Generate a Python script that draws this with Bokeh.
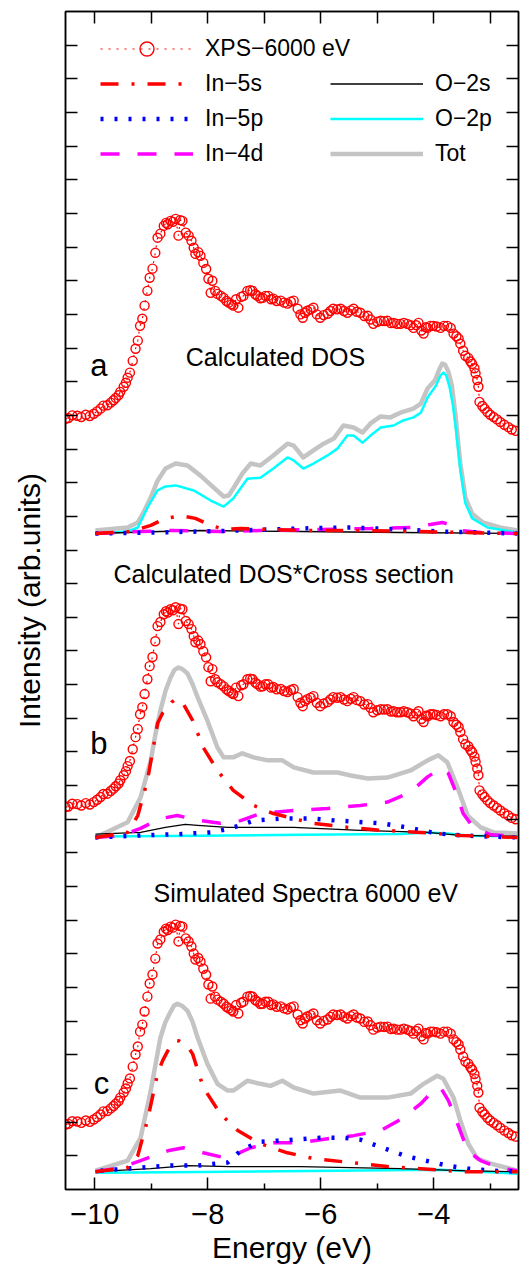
from bokeh.plotting import figure
from bokeh.models import FixedTicker, LinearAxis, Range1d, Label, Legend, LegendItem
from bokeh.embed import file_html
from bokeh.resources import INLINE

FONT = "Liberation Sans"

# ---------------- data ----------------
# measured XPS spectrum (6000 eV), same spectrum shown in the three panels
xps_e = [-10.52, -10.47, -10.40, -10.31, -10.24, -10.16, -10.09, -10.02, -9.96, -9.90,
         -9.85, -9.78, -9.72, -9.67, -9.63, -9.58, -9.55, -9.49, -9.45, -9.42,
         -9.38, -9.33, -9.28, -9.24, -9.20, -9.16, -9.12, -9.07, -9.03, -8.98,
         -8.93, -8.89, -8.84, -8.78, -8.74, -8.71, -8.66, -8.62, -8.57, -8.52,
         -8.49, -8.45, -8.39, -8.34, -8.29, -8.25, -8.22, -8.17, -8.13, -8.08,
         -8.03, -7.99, -7.95, -7.92, -7.87, -7.83, -7.77, -7.72, -7.67, -7.63,
         -7.58, -7.55, -7.50, -7.46, -7.41, -7.37, -7.30, -7.25, -7.21, -7.16,
         -7.12, -7.07, -7.03, -6.98, -6.93, -6.88, -6.84, -6.78, -6.71, -6.65,
         -6.59, -6.53, -6.48, -6.41, -6.36, -6.32, -6.28, -6.24, -6.18, -6.13,
         -6.07, -6.01, -5.95, -5.88, -5.83, -5.78, -5.71, -5.65, -5.59, -5.53,
         -5.47, -5.42, -5.36, -5.30, -5.23, -5.17, -5.12, -5.07, -5.00, -4.94,
         -4.88, -4.82, -4.76, -4.71, -4.65, -4.59, -4.53, -4.47, -4.41, -4.36,
         -4.31, -4.27, -4.22, -4.18, -4.14, -4.11, -4.06, -4.01, -3.95, -3.88,
         -3.82, -3.76, -3.70, -3.65, -3.60, -3.56, -3.53, -3.48, -3.44, -3.39,
         -3.35, -3.32, -3.28, -3.26, -3.23, -3.21, -3.19, -3.14, -3.10, -3.05,
         -3.00, -2.94, -2.88, -2.82, -2.75, -2.68, -2.62, -2.55]
xps_i = [0.00, 0.02, 0.10, 0.09, 0.05, 0.12, 0.08, 0.15, 0.22, 0.30,
         0.39, 0.40, 0.48, 0.55, 0.62, 0.70, 0.80, 0.95, 1.07, 1.22,
         1.37, 1.72, 2.08, 2.32, 2.76, 2.97, 3.36, 3.80, 4.19, 4.46,
         4.93, 5.38, 5.50, 5.73, 5.82, 5.78, 5.88, 5.85, 5.94, 5.44,
         5.90, 5.88, 5.53, 5.44, 5.29, 5.08, 4.90, 4.95, 4.84, 4.63,
         4.45, 4.16, 3.74, 4.10, 3.80, 3.71, 3.65, 3.59, 3.50, 3.45,
         3.40, 3.36, 3.55, 3.30, 3.62, 3.65, 3.80, 3.82, 3.80, 3.70,
         3.65, 3.58, 3.59, 3.65, 3.65, 3.55, 3.57, 3.50, 3.51, 3.45,
         3.42, 3.48, 3.51, 3.27, 3.10, 3.00, 3.15, 3.21, 3.25, 3.30,
         3.10, 3.00, 3.08, 3.12, 3.20, 3.27, 3.25, 3.27, 3.20, 3.15,
         3.22, 3.27, 3.18, 3.15, 3.05, 3.06, 2.95, 2.82, 2.88, 2.91,
         2.90, 2.91, 2.84, 2.85, 2.82, 2.82, 2.85, 2.82, 2.78, 2.70,
         2.78, 2.85, 2.62, 2.53, 2.72, 2.70, 2.76, 2.76, 2.74, 2.70,
         2.76, 2.76, 2.70, 2.53, 2.45, 2.38, 2.23, 2.02, 1.87, 1.81,
         1.70, 1.63, 1.50, 1.35, 1.15, 0.95, 0.50, 0.38, 0.30, 0.20,
         0.12, 0.05, -0.02, -0.10, -0.18, -0.25, -0.32, -0.36]

# vertical offsets of each panel (arb. units)
xps_offset = {"a": 22.90, "b": 11.36, "c": 1.93}
calc_base = {"a": 19.49, "b": 10.46, "c": 0.53}

# ---- panel a : Calculated DOS ----
a_tot_e = [-9.99, -9.42, -9.24, -9.14, -9.01, -8.89, -8.75, -8.57, -8.36, -8.13, -7.90, -7.72, -7.63, -7.55,
           -7.39, -7.24, -7.07, -6.84, -6.59, -6.48, -6.31, -6.13, -5.95, -5.77, -5.60, -5.42, -5.26,
           -5.12, -4.94, -4.77, -4.59, -4.36, -4.23, -4.11, -3.98, -3.90, -3.85, -3.80, -3.74, -3.68,
           -3.62, -3.53, -3.44, -3.32, -3.13, -2.83, -2.52]
a_tot_i = [0.09, 0.18, 0.33, 0.62, 1.07, 1.57, 1.93, 2.08, 2.02, 1.72, 1.37, 1.10, 1.13, 1.34,
           1.78, 2.08, 2.02, 2.32, 2.67, 2.61, 2.26, 2.47, 2.67, 2.82, 3.21, 3.15, 3.00,
           3.27, 3.48, 3.45, 3.59, 3.71, 3.86, 4.31, 4.55, 4.88, 5.05, 5.02, 4.80, 4.40,
           3.57, 2.08, 1.07, 0.59, 0.33, 0.18, 0.09]
a_2p_e = [-9.99, -9.42, -9.24, -9.07, -8.89, -8.75, -8.57, -8.25, -7.95, -7.72, -7.55, -7.30, -7.07,
          -6.84, -6.59, -6.48, -6.31, -6.13, -5.88, -5.70, -5.53, -5.42, -5.26, -5.12, -4.94, -4.71,
          -4.54, -4.36, -4.23, -4.11, -3.96, -3.88, -3.83, -3.78, -3.72, -3.66, -3.60, -3.53, -3.44,
          -3.32, -3.05, -2.52]
a_2p_i = [0.00, 0.06, 0.18, 0.77, 1.28, 1.40, 1.43, 1.28, 0.98, 0.80, 1.04, 1.63, 1.66,
          1.93, 2.26, 2.17, 1.93, 2.08, 2.32, 2.53, 2.91, 2.91, 2.70, 2.91, 3.15, 3.21,
          3.36, 3.45, 3.59, 4.04, 4.40, 4.70, 4.78, 4.70, 4.35, 3.80, 3.00, 1.90, 0.90,
          0.45, 0.18, 0.03]
a_5s_e = [-9.99, -9.37, -9.01, -8.75, -8.48, -8.22, -7.95, -7.69, -7.42, -6.36, -5.30, -4.23, -3.53, -2.52]
a_5s_i = [0.00, 0.06, 0.24, 0.45, 0.53, 0.45, 0.24, 0.12, 0.15, 0.09, 0.09, 0.06, 0.03, 0.00]
a_4d_e = [-9.99, -9.19, -8.66, -7.78, -7.07, -6.01, -5.12, -4.41, -4.06, -3.85, -3.67, -3.53, -3.17, -2.52]
a_4d_i = [0.00, 0.06, 0.09, 0.06, 0.09, 0.12, 0.15, 0.18, 0.27, 0.33, 0.24, 0.09, 0.03, 0.00]
a_5p_e = [-9.99, -9.01, -8.13, -7.42, -6.36, -5.47, -4.59, -3.88, -2.52]
a_5p_i = [0.00, 0.03, 0.06, 0.09, 0.15, 0.18, 0.12, 0.06, 0.00]
a_2s_e = [-9.99, -8.84, -8.13, -6.36, -4.59, -2.52]
a_2s_i = [0.00, 0.06, 0.09, 0.06, 0.03, 0.00]

# ---- panel b : Calculated DOS * cross section ----
b_tot_e = [-9.99, -9.42, -9.19, -9.01, -8.93, -8.84, -8.75, -8.66, -8.59, -8.52, -8.45, -8.36, -8.27,
           -8.18, -8.01, -7.83, -7.72, -7.55, -7.39, -7.19, -6.94, -6.68, -6.48, -6.13, -5.70, -5.47,
           -5.17, -4.82, -4.41, -4.11, -3.92, -3.76, -3.58, -3.40, -3.17, -2.94, -2.52]
b_tot_i = [0.00, 0.45, 1.19, 2.29, 3.05, 3.77, 4.35, 4.75, 4.98, 5.05, 5.00, 4.87, 4.55,
           4.16, 3.48, 2.67, 2.38, 2.38, 2.50, 2.38, 2.29, 2.29, 2.08, 1.93, 1.93, 1.84,
           1.75, 1.78, 1.99, 2.29, 2.44, 2.23, 1.49, 0.65, 0.30, 0.15, 0.12]
b_5s_e = [-9.99, -9.42, -9.24, -9.07, -8.89, -8.80, -8.71, -8.64, -8.57, -8.50, -8.45, -8.27, -8.08,
          -7.83, -7.55, -7.19, -6.84, -6.48, -6.13, -5.53, -5.00, -4.23, -3.53, -2.52]
b_5s_i = [0.00, 0.15, 0.65, 1.69, 3.39, 3.70, 3.86, 4.02, 4.10, 4.08, 4.01, 3.48, 2.67,
          1.99, 1.40, 0.95, 0.71, 0.56, 0.42, 0.30, 0.22, 0.15, 0.06, 0.00]
b_4d_e = [-9.99, -9.54, -9.19, -8.84, -8.54, -8.13, -7.78, -7.42, -7.07, -6.48, -5.88, -5.30, -4.82,
          -4.41, -4.11, -3.88, -3.74, -3.62, -3.48, -3.30, -2.99, -2.52]
b_4d_i = [0.00, 0.06, 0.27, 0.56, 0.65, 0.50, 0.42, 0.50, 0.71, 0.80, 0.86, 0.95, 1.05,
          1.35, 1.80, 2.05, 1.90, 1.40, 0.71, 0.30, 0.08, 0.03]
b_5p_e = [-9.99, -9.19, -8.48, -7.95, -7.65, -7.42, -7.19, -6.71, -6.18, -5.70, -5.24, -4.94, -4.47,
          -4.23, -3.94, -3.53, -2.52]
b_5p_i = [0.00, 0.06, 0.10, 0.15, 0.25, 0.36, 0.50, 0.56, 0.56, 0.50, 0.45, 0.42, 0.30,
          0.21, 0.12, 0.06, 0.00]
b_2s_e = [-9.99, -9.19, -8.75, -8.40, -8.18, -7.65, -6.48, -5.30, -4.71, -4.11, -3.53, -2.52]
b_2s_i = [0.10, 0.15, 0.30, 0.39, 0.36, 0.30, 0.30, 0.21, 0.18, 0.15, 0.06, 0.03]
b_2p_e = [-9.99, -8.13, -6.36, -4.59, -4.11, -3.76, -3.35, -2.52]
b_2p_i = [0.03, 0.05, 0.08, 0.10, 0.15, 0.12, 0.05, 0.03]

# ---- panel c : simulated spectra 6000 eV ----
c_tot_e = [-9.99, -9.42, -9.19, -9.01, -8.84, -8.75, -8.66, -8.60, -8.54, -8.45, -8.36, -8.27, -8.18,
           -8.01, -7.83, -7.65, -7.55, -7.30, -7.07, -6.89, -6.68, -6.48, -6.13, -5.65, -5.30, -4.82,
           -4.41, -4.18, -3.94, -3.83, -3.65, -3.53, -3.39, -3.23, -2.99, -2.52]
c_tot_i = [0.03, 0.33, 1.01, 2.41, 3.98, 4.45, 4.75, 4.93, 4.99, 4.92, 4.78, 4.45, 3.98,
           3.21, 2.61, 2.41, 2.41, 2.70, 2.61, 2.55, 2.70, 2.50, 2.32, 2.41, 2.20, 2.20,
           2.32, 2.61, 2.85, 2.76, 2.20, 1.52, 0.83, 0.39, 0.24, 0.03]
c_5s_e = [-9.99, -9.42, -9.24, -9.07, -8.89, -8.80, -8.71, -8.64, -8.57, -8.50, -8.43, -8.35, -8.27,
          -8.08, -7.78, -7.47, -7.07, -6.59, -6.13, -5.30, -4.82, -4.23, -3.53, -2.52]
c_5s_i = [0.00, 0.12, 0.48, 1.52, 2.91, 3.30, 3.59, 3.78, 3.89, 3.88, 3.80, 3.70, 3.50,
          2.50, 1.72, 1.22, 0.83, 0.56, 0.39, 0.24, 0.15, 0.09, 0.00, 0.00]
c_4d_e = [-9.99, -9.54, -9.19, -8.71, -8.43, -8.08, -7.72, -7.55, -7.24, -6.84, -6.36, -5.88, -5.42,
          -4.94, -4.54, -4.23, -4.06, -3.88, -3.74, -3.58, -3.40, -3.17, -2.82, -2.52]
c_4d_i = [0.00, 0.12, 0.33, 0.62, 0.71, 0.56, 0.42, 0.48, 0.71, 0.86, 0.86, 0.98, 1.07,
          1.22, 1.60, 2.02, 2.32, 2.50, 2.11, 1.43, 0.62, 0.33, 0.10, 0.03]
c_5p_e = [-9.90, -9.19, -8.66, -8.18, -7.83, -7.65, -7.55, -7.42, -7.24, -7.07, -6.77, -6.48, -6.01,
          -5.60, -5.30, -5.00, -4.71, -4.47, -4.23, -3.76, -3.40, -2.99, -2.52]
c_5p_i = [0.03, 0.12, 0.18, 0.18, 0.24, 0.27, 0.42, 0.62, 0.77, 0.89, 0.92, 0.95, 1.01,
          1.01, 0.95, 0.77, 0.59, 0.45, 0.36, 0.18, 0.09, 0.03, 0.00]
c_2s_e = [-9.99, -9.01, -8.36, -7.60, -6.36, -4.59, -3.53, -2.52]
c_2s_i = [0.00, 0.09, 0.18, 0.15, 0.15, 0.09, 0.03, 0.00]
c_2p_e = [-9.99, -8.13, -5.77, -3.88, -3.17, -2.52]
c_2p_i = [-0.03, -0.01, 0.03, 0.06, 0.00, -0.06]

legend_left = ["XPS\u22126000 eV", "In\u22125s", "In\u22125p", "In\u22124d"]
legend_right = ["O\u22122s", "O\u22122p", "Tot"]
x_ticks = [-10, -8, -6, -4]
x_minor = [-9, -7, -5, -3]

# ---------------- figure ----------------
p = figure(width=520, height=1271, output_backend="svg", toolbar_location=None,
           x_range=Range1d(-10.52, -2.5), y_range=Range1d(0, 35),
           x_axis_location=None, y_axis_location=None,
           min_border_left=65, min_border_right=2, min_border_top=11, min_border_bottom=82)
p.outline_line_color = "black"
p.outline_line_width = 1.5
p.background_fill_color = "white"
p.border_fill_color = "white"
p.xgrid.visible = False
p.ygrid.visible = False

def add_axis(place, ticks, minor=None, labels=None, title=None):
    ax = LinearAxis(ticker=FixedTicker(ticks=ticks, minor_ticks=minor or []))
    ax.major_tick_in = 12
    ax.major_tick_out = 0
    ax.minor_tick_in = 6
    ax.minor_tick_out = 0
    ax.major_tick_line_width = 1.5
    ax.minor_tick_line_width = 1.5
    ax.axis_line_width = 1.5
    ax.axis_line_color = "black"
    ax.major_label_text_font = FONT
    if labels is None:
        ax.major_label_overrides = {t: "" for t in ticks}
        ax.major_label_text_font_size = "1px"
        ax.major_label_standoff = 0
    else:
        ax.major_label_overrides = labels
        ax.major_label_text_font_size = "29px"
        ax.major_label_standoff = 14
        ax.major_label_text_color = "black"
    if title:
        ax.axis_label = title
        ax.axis_label_text_font = FONT
        ax.axis_label_text_font_style = "normal"
        ax.axis_label_text_font_size = "30px"
        ax.axis_label_text_color = "black"
    p.add_layout(ax, place)
    return ax

bottom = add_axis("below", x_ticks, x_minor,
                  labels={t: "\u2212" + str(abs(t)) for t in x_ticks}, title="Energy (eV)")
bottom.axis_label_standoff = 4
add_axis("above", list(range(-10, -2)))
left = add_axis("left", list(range(1, 35)), title="Intensity (arb.units)")
left.axis_label_standoff = 20
add_axis("right", list(range(1, 35)))

styles = {
    "tot": dict(line_color="#c4c4c4", line_width=4.5, line_join="round"),
    "2p": dict(line_color="#00ffff", line_width=2.5, line_join="round"),
    "2s": dict(line_color="black", line_width=1.3, line_join="round"),
    "4d": dict(line_color="#ff00ff", line_width=3.5, line_dash="19 18"),
    "5p": dict(line_color="#0000ff", line_width=4.5, line_dash="3 11"),
    "5s": dict(line_color="#ff0000", line_width=3.5, line_dash="18 13 3 13"),
}

panels = {
    "a": {"tot": (a_tot_e, a_tot_i), "2p": (a_2p_e, a_2p_i), "2s": (a_2s_e, a_2s_i),
          "4d": (a_4d_e, a_4d_i), "5p": (a_5p_e, a_5p_i), "5s": (a_5s_e, a_5s_i)},
    "b": {"tot": (b_tot_e, b_tot_i), "2p": (b_2p_e, b_2p_i), "2s": (b_2s_e, b_2s_i),
          "4d": (b_4d_e, b_4d_i), "5p": (b_5p_e, b_5p_i), "5s": (b_5s_e, b_5s_i)},
    "c": {"tot": (c_tot_e, c_tot_i), "2p": (c_2p_e, c_2p_i), "2s": (c_2s_e, c_2s_i),
          "4d": (c_4d_e, c_4d_i), "5p": (c_5p_e, c_5p_i), "5s": (c_5s_e, c_5s_i)},
}

rend = {}
for name, comps in panels.items():
    base = calc_base[name]
    for key in ["tot", "2p", "2s", "4d", "5p", "5s"]:
        e, i = comps[key]
        r = p.line(e, [v + base for v in i], **styles[key])
        if name == "a":
            rend[key] = r
    off = xps_offset[name]
    yy = [v + off for v in xps_i]
    rl = p.line(xps_e, yy, line_color="red", line_width=1.2, line_dash="2 6")
    rs = p.scatter(xps_e, yy, marker="circle", size=9, line_color="red",
                   line_width=1.4, fill_color=None)
    if name == "a":
        rend["xps"] = (rl, rs)

def make_legend(items, loc):
    lg = Legend(items=items, location=loc, orientation="vertical")
    lg.glyph_width = 93
    lg.glyph_height = 35
    lg.label_height = 35
    lg.label_standoff = 12
    lg.spacing = 0
    lg.padding = 0
    lg.margin = 0
    lg.border_line_color = None
    lg.background_fill_alpha = 0
    lg.label_text_font = FONT
    lg.label_text_font_size = "23px"
    lg.label_text_baseline = "middle"
    lg.label_text_color = "black"
    p.add_layout(lg, "center")
    return lg

make_legend([
    LegendItem(label=legend_left[0], renderers=list(rend["xps"])),
    LegendItem(label=legend_left[1], renderers=[rend["5s"]]),
    LegendItem(label=legend_left[2], renderers=[rend["5p"]]),
    LegendItem(label=legend_left[3], renderers=[rend["4d"]]),
], (35, 1018))
make_legend([
    LegendItem(label=legend_right[0], renderers=[rend["2s"]]),
    LegendItem(label=legend_right[1], renderers=[rend["2p"]]),
    LegendItem(label=legend_right[2], renderers=[rend["tot"]]),
], (265, 1018))

def add_text(x, y, txt, size):
    p.add_layout(Label(x=x, y=y, text=txt, text_font=FONT, text_font_size=size,
                       text_baseline="alphabetic", text_align="left", text_color="black"))

add_text(-10.08, 24.48, "a", "31px")
add_text(-8.39, 24.72, "Calculated DOS", "25px")
add_text(-9.67, 18.30, "Calculated DOS*Cross section", "25px")
add_text(-10.08, 13.25, "b", "31px")
add_text(-8.96, 8.82, "Simulated Spectra 6000 eV", "25px")
add_text(-10.02, 3.15, "c", "31px")

open("out.html", "w").write(file_html(p, INLINE))
